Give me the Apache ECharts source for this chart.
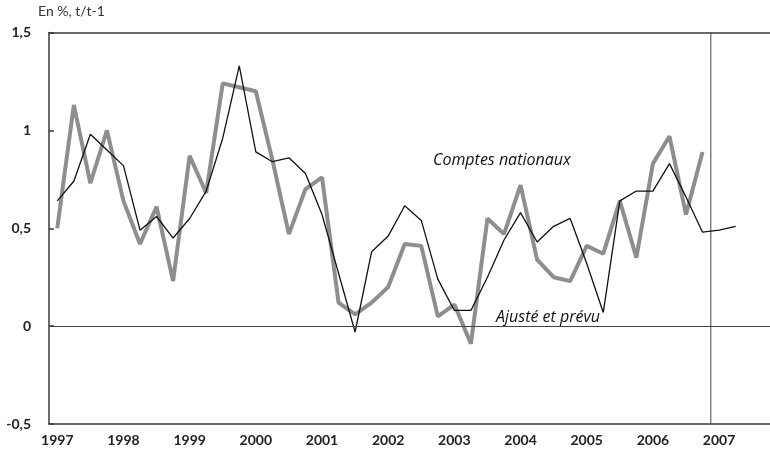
<!DOCTYPE html>
<html><head><meta charset="utf-8">
<script src="https://cdn.jsdelivr.net/npm/echarts@6/dist/echarts.min.js"></script>
<style>html,body{margin:0;padding:0;background:#fff}#c{width:770px;height:458px}</style>
</head><body><div id="c"></div>
<script>
// Years shown on the x axis (each year has four quarters)
const yearLabels = ['1997','1998','1999','2000','2001','2002','2003','2004','2005','2006','2007'];
const quarterNames = ['T1','T2','T3','T4'];
// Quarterly categories built from the year labels
const categories = [];
yearLabels.forEach(y => quarterNames.forEach(q => categories.push(y + q)));

// Comptes nationaux (black thin line), 1997T1 .. 2007T2
const comptesNationaux = [
  0.64, 0.74, 0.98, 0.90,
  0.82, 0.49, 0.56, 0.45,
  0.55, 0.69, 0.96, 1.33,
  0.89, 0.84, 0.86, 0.78,
  0.57, 0.27, -0.03, 0.38,
  0.46, 0.615, 0.54, 0.24,
  0.08, 0.08, 0.25, 0.44,
  0.58, 0.43, 0.51, 0.55,
  0.32, 0.07, 0.64, 0.69,
  0.69, 0.83, 0.66, 0.48,
  0.49, 0.51
];
// Ajusté et prévu (grey thick line), 1997T1 .. 2006T4
const ajusteEtPrevu = [
  0.50, 1.13, 0.73, 1.00,
  0.64, 0.42, 0.61, 0.23,
  0.87, 0.68, 1.24, 1.22,
  1.20, 0.85, 0.47, 0.70,
  0.76, 0.12, 0.06, 0.12,
  0.20, 0.42, 0.41, 0.05,
  0.11, -0.09, 0.55, 0.47,
  0.72, 0.34, 0.25, 0.23,
  0.41, 0.37, 0.64, 0.35,
  0.83, 0.97, 0.57, 0.89
];
const yMin = -0.5, yMax = 1.5, yStep = 0.5;
const forecastStartIndex = 40; // boundary before 2007T1

const axisColor = '#3a3a3a';
const chart = echarts.init(document.getElementById('c'), null, {renderer:'canvas'});
chart.setOption({
  animation: false,
  grid: {left: 49, width: 728, top: 32.5, bottom: 34, containLabel: false, outerBoundsMode: 'none'},
  xAxis: [{
    type: 'category', data: categories, boundaryGap: true,
    axisLine: {onZero: false, lineStyle: {color: axisColor, width: 1.5}},
    axisTick: {inside: true, length: 5, interval: (i) => i % 4 === 0, lineStyle: {color: axisColor, width: 1.5}},
    axisLabel: {interval: (i) => i % 4 === 0, formatter: v => v.slice(0, 4), color: '#222', fontWeight: 'bold', fontSize: 14, fontFamily: 'Lato', margin: 9},
    splitLine: {show: false}
  }, {
    type: 'category', data: categories, position: 'top', boundaryGap: true,
    axisLine: {show: true, onZero: false, lineStyle: {color: axisColor, width: 1.5}},
    axisTick: {show: false}, axisLabel: {show: false}, splitLine: {show: false}
  }, {
    type: 'value', min: 0, max: categories.length, show: false
  }],
  yAxis: {
    type: 'value', min: yMin, max: yMax, interval: yStep,
    axisLine: {show: true, lineStyle: {color: axisColor, width: 1.5}},
    axisTick: {show: true, inside: true, length: 5, lineStyle: {color: axisColor, width: 1.5}},
    axisLabel: {formatter: v => String(v).replace('.', ','), color: '#222', fontWeight: 'bold', fontSize: 14, fontFamily: 'Lato', margin: 18},
    splitLine: {show: false}
  },
  series: [{
    name: 'Ajusté et prévu', type: 'line', data: ajusteEtPrevu, showSymbol: false,
    lineStyle: {color: '#8e8e8e', width: 4}, z: 2
  }, {
    name: 'Comptes nationaux', type: 'line', data: comptesNationaux, showSymbol: false,
    lineStyle: {color: '#111', width: 1.3}, z: 3,
    markLine: {silent: true, symbol: 'none', label: {show: false},
      lineStyle: {color: '#444', width: 1, type: 'solid'}, data: [{yAxis: 0}]}
  }, {
    name: 'Début prévision', type: 'line', xAxisIndex: 2, showSymbol: false, silent: true,
    data: [[forecastStartIndex, yMin], [forecastStartIndex, yMax]],
    lineStyle: {color: '#444', width: 1}, z: 1
  }],
  graphic: [
    {type: 'text', left: 38, top: 4, style: {text: 'En %, t/t-1', fontSize: 14, fill: '#333', fontFamily: 'Lato'}},
    {type: 'text', x: 433, y: 160, style: {text: 'Comptes nationaux', fontSize: 16, fontStyle: 'italic', fill: '#111', fontFamily: 'Open Sans', textVerticalAlign: 'middle'}},
    {type: 'text', x: 496, y: 317, style: {text: 'Ajusté et prévu', fontSize: 16, fontStyle: 'italic', fill: '#111', fontFamily: 'Open Sans', textVerticalAlign: 'middle'}}
  ]
});
</script></body></html>
